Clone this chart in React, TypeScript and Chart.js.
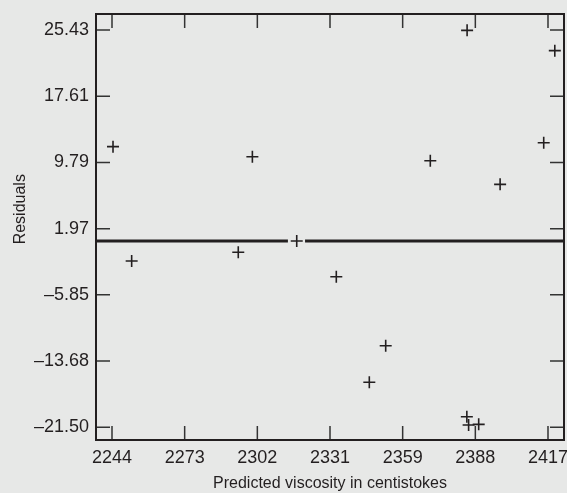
import React, { useEffect, useRef } from "react";
import { Chart, registerables } from "chart.js";

Chart.register(...registerables);

// Data (predicted viscosity vs residuals)
const predicted = [2244.4, 2251.8, 2294.1, 2299.7, 2317.3, 2333.0, 2346.1, 2352.6, 2370.3, 2384.9, 2384.8, 2385.5, 2389.5, 2398.0, 2415.3, 2419.7];
const residuals = [11.65, -1.86, -0.83, 10.46, 0.51, -3.71, -16.18, -11.86, 9.99, 25.39, -20.25, -21.23, -21.15, 7.2, 12.12, 22.99];

const xTickValues = [2244, 2272.83, 2301.67, 2330.5, 2359.33, 2388.17, 2417];
const xTickLabels = ["2244", "2273", "2302", "2331", "2359", "2388", "2417"];
const yTickValues = [-21.5, -13.678, -5.857, 1.965, 9.787, 17.608, 25.43];
const yTickLabels = ["\u201321.50", "\u201313.68", "\u20135.85", "1.97", "9.79", "17.61", "25.43"];

const xMin = 2237.65;
const xMax = 2423.35;
const yMin = -23.0;
const yMax = 27.32;

// reference line (with a gap around the middle point)
const refLineY = 0.51;
const refLineGapStart = 2313.8;
const refLineGapEnd = 2320.6;

const INK = "#231f20";
const BG = "#e7e8e7";
const FONT = "'Liberation Sans', Arial, Helvetica, sans-serif";
const W = 567;
const H = 493;

const frameTicksPlugin = {
  id: "frameTicks",
  afterDatasetsDraw(chart: any) {
    const { ctx, chartArea } = chart;
    const xs = chart.scales.x;
    const ys = chart.scales.y;
    const L = 14;
    ctx.save();
    ctx.strokeStyle = "#333";
    ctx.lineWidth = 1.5;
    ctx.beginPath();
    xTickValues.forEach((v) => {
      const px = xs.getPixelForValue(v);
      ctx.moveTo(px, chartArea.bottom);
      ctx.lineTo(px, chartArea.bottom - L);
      ctx.moveTo(px, chartArea.top);
      ctx.lineTo(px, chartArea.top + L);
    });
    yTickValues.forEach((v) => {
      const py = ys.getPixelForValue(v);
      ctx.moveTo(chartArea.left, py);
      ctx.lineTo(chartArea.left + L, py);
      ctx.moveTo(chartArea.right, py);
      ctx.lineTo(chartArea.right - L, py);
    });
    ctx.stroke();
    ctx.strokeStyle = INK;
    ctx.lineWidth = 2;
    ctx.strokeRect(chartArea.left, chartArea.top, chartArea.right - chartArea.left, chartArea.bottom - chartArea.top);
    ctx.restore();
  },
};

export default function App() {
  const ref = useRef<HTMLCanvasElement | null>(null);

  useEffect(() => {
    if (!ref.current) return;
    const points = predicted.map((x, i) => ({ x, y: residuals[i] }));
    const lineData = [
      { x: xMin, y: refLineY },
      { x: refLineGapStart, y: refLineY },
      { x: (refLineGapStart + refLineGapEnd) / 2, y: null },
      { x: refLineGapEnd, y: refLineY },
      { x: xMax, y: refLineY },
    ];
    const chart = new Chart(ref.current, {
      type: "scatter",
      data: {
        datasets: [
          {
            type: "line",
            data: lineData as any,
            borderColor: INK,
            borderWidth: 3,
            pointRadius: 0,
            spanGaps: false,
            fill: false,
          } as any,
          {
            type: "scatter",
            data: points,
            pointStyle: "cross",
            pointRadius: 6,
            pointHoverRadius: 6,
            borderColor: INK,
            borderWidth: 1.6,
            backgroundColor: INK,
          },
        ],
      },
      options: {
        animation: false,
        responsive: false,
        devicePixelRatio: 1,
        layout: { autoPadding: false, padding: { top: 14, right: 3, left: 0, bottom: 0 } },
        plugins: { legend: { display: false }, tooltip: { enabled: false } },
        scales: {
          x: {
            type: "linear",
            min: xMin,
            max: xMax,
            afterBuildTicks: (s: any) => {
              s.ticks = xTickValues.map((v) => ({ value: v }));
            },
            afterFit: (s: any) => {
              s.height = 53;
              s.paddingLeft = 0;
              s.paddingRight = 0;
            },
            grid: { display: false, drawTicks: false },
            border: { display: false },
            ticks: {
              padding: 7,
              color: INK,
              font: { family: FONT, size: 18 },
              maxRotation: 0,
              autoSkip: false,
              callback: (_v: any, i: number) => xTickLabels[i],
            },
            title: {
              display: true,
              text: "Predicted viscosity in centistokes",
              color: INK,
              font: { family: FONT, size: 16 },
              padding: { top: 0, bottom: 0 },
            },
          },
          y: {
            type: "linear",
            min: yMin,
            max: yMax,
            afterBuildTicks: (s: any) => {
              s.ticks = yTickValues.map((v) => ({ value: v }));
            },
            afterFit: (s: any) => {
              s.width = 96;
              s.paddingTop = 0;
              s.paddingBottom = 0;
            },
            grid: { display: false, drawTicks: false },
            border: { display: false },
            ticks: {
              padding: 7,
              color: INK,
              font: { family: FONT, size: 18 },
              autoSkip: false,
              callback: (_v: any, i: number) => yTickLabels[i],
            },
            title: {
              display: true,
              text: "        Residuals",
              color: INK,
              font: { family: FONT, size: 16 },
              padding: { top: 11, bottom: 0 },
            },
          },
        },
      },
      plugins: [frameTicksPlugin],
    } as any);
    return () => chart.destroy();
  }, []);

  return (
    <div style={{ position: "fixed", left: 0, top: 0, width: W, height: H, background: BG }}>
      <canvas ref={ref} width={W} height={H} style={{ display: "block", width: W, height: H }} />
    </div>
  );
}
